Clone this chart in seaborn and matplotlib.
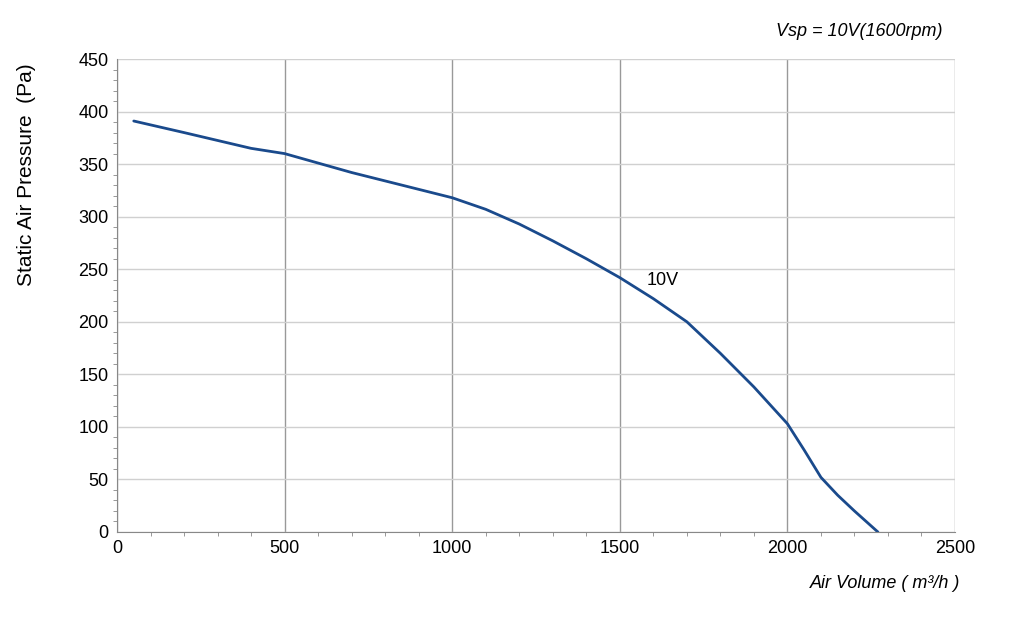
import matplotlib
matplotlib.use("Agg")
import matplotlib.pyplot as plt
import seaborn as sns
import pandas as pd
from matplotlib.ticker import MultipleLocator

air_volume = [50, 200, 400, 500, 600, 700, 800, 900, 1000, 1100, 1200, 1300, 1400, 1500, 1600, 1700, 1800, 1900, 2000, 2050, 2100, 2150, 2200, 2270]
pressure = [391, 380, 365, 360, 351, 342, 334, 326, 318, 307, 293, 277, 260, 242, 222, 200, 170, 138, 103, 78, 52, 35, 20, 0]

sns.set_style("white")
plt.rcParams['font.family'] = ['Liberation Sans', 'DejaVu Sans']
plt.rcParams['text.color'] = 'black'
fig = plt.figure(figsize=(10.24, 6.19), dpi=100)
ax = fig.add_axes([117/1024, 1-532/619, (955-117)/1024, (532-59)/619])
df = pd.DataFrame({"x": air_volume, "y": pressure})
sns.lineplot(data=df, x="x", y="y", ax=ax, color="#1a4a8c", linewidth=2)
ax.set_xlim(0, 2500)
ax.set_ylim(0, 450)
ax.xaxis.set_major_locator(MultipleLocator(500))
ax.yaxis.set_major_locator(MultipleLocator(50))
ax.yaxis.set_minor_locator(MultipleLocator(10))
ax.xaxis.set_minor_locator(MultipleLocator(100))
ax.grid(True, axis="x", which="major", color="#999999", linewidth=1)
ax.grid(True, axis="y", which="major", color="#d0d0d0", linewidth=1)
ax.tick_params(axis="both", which="major", labelsize=13, length=0, pad=6, labelcolor="black")
ax.tick_params(axis="both", which="minor", length=3, color="#888888", left=True, bottom=True)
for s in ["top", "right"]:
    ax.spines[s].set_visible(False)
for s in ["left", "bottom"]:
    ax.spines[s].set_color("#888888")
ax.set_xlabel("")
ax.set_ylabel("Static Air Pressure  (Pa)", fontsize=15, color="black")
ax.yaxis.set_label_coords(-0.097, 0.755)
fig.text(0.938, 0.05, "Air Volume ( m³/h )", ha="right", fontsize=13, style="italic")
fig.text(0.92, 0.942, "Vsp = 10V(1600rpm)", ha="right", fontsize=13, style="italic")
ax.text(1580, 235, "10V", fontsize=13)
fig.savefig("out.png", dpi=100)
